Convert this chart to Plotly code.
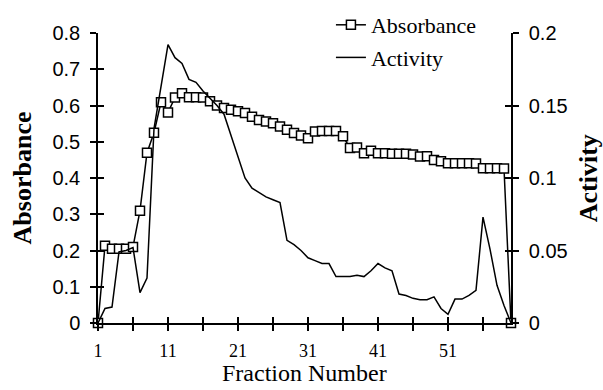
import plotly.graph_objects as go

# ---- data ----
fraction = list(range(1, 61))
absorbance = [
    0.0, 0.213, 0.205, 0.205, 0.205, 0.210, 0.310, 0.470, 0.525, 0.609,
    0.581, 0.622, 0.634, 0.623, 0.623, 0.622, 0.612, 0.600, 0.593, 0.588,
    0.584, 0.579, 0.569, 0.560, 0.556, 0.551, 0.542, 0.533, 0.524, 0.517,
    0.510, 0.528, 0.530, 0.530, 0.530, 0.515, 0.483, 0.484, 0.468, 0.475,
    0.468, 0.468, 0.467, 0.467, 0.467, 0.465, 0.459, 0.460, 0.450, 0.446,
    0.441, 0.441, 0.441, 0.441, 0.440, 0.427, 0.427, 0.427, 0.426, 0.0,
]
activity = [
    0.0, 0.010, 0.011, 0.049, 0.050, 0.052, 0.021, 0.031, 0.134, 0.163,
    0.192, 0.183, 0.179, 0.168, 0.166, 0.160, 0.155, 0.150, 0.144, 0.129,
    0.115, 0.100, 0.093, 0.090, 0.087, 0.085, 0.083, 0.057, 0.054, 0.050,
    0.045, 0.043, 0.041, 0.041, 0.032, 0.032, 0.032, 0.033, 0.032, 0.036,
    0.041, 0.038, 0.036, 0.020, 0.019, 0.017, 0.016, 0.016, 0.018, 0.010,
    0.006, 0.0165, 0.0165, 0.019, 0.0225, 0.073, 0.051, 0.026, 0.012, 0.0,
]
x_tickvals = list(range(1, 60, 5))
x_ticklabels = ["1", "", "11", "", "21", "", "31", "", "41", "", "51", ""]
abs_ticks = [0, 0.1, 0.2, 0.3, 0.4, 0.5, 0.6, 0.7, 0.8]
act_ticks = [0, 0.05, 0.1, 0.15, 0.2]

SANS = "Liberation Sans, Arial, sans-serif"
SERIF = "Liberation Serif, Times New Roman, serif"

fig = go.Figure()
fig.add_trace(go.Scatter(
    x=fraction, y=absorbance, name="Absorbance", mode="lines+markers",
    line=dict(color="black", width=1.5),
    marker=dict(symbol="square", size=9, color="white",
                line=dict(color="black", width=1.5)),
    cliponaxis=False, legendgroup="a", xaxis="x", yaxis="y",
))
fig.add_trace(go.Scatter(
    x=fraction, y=activity, name="Activity", mode="lines",
    line=dict(color="black", width=1.5),
    cliponaxis=False, legendgroup="b", xaxis="x", yaxis="y2",
))
# empty traces to host the overlay axes that draw the inner half of crossing ticks
fig.add_trace(go.Scatter(x=[], y=[], xaxis="x2", yaxis="y", showlegend=False, hoverinfo="skip"))
fig.add_trace(go.Scatter(x=[], y=[], xaxis="x", yaxis="y3", showlegend=False, hoverinfo="skip"))
fig.add_trace(go.Scatter(x=[], y=[], xaxis="x", yaxis="y4", showlegend=False, hoverinfo="skip"))

common = dict(showgrid=False, zeroline=False, ticklen=6, tickwidth=1.5, tickcolor="black",
              automargin=False)

fig.update_layout(
    width=603, height=390,
    margin=dict(l=98, r=92, t=33, b=67, autoexpand=False),
    paper_bgcolor="white", plot_bgcolor="white",
    xaxis=dict(range=[1, 60], tickmode="array", tickvals=x_tickvals, ticktext=x_ticklabels,
               ticks="outside", showline=True, linecolor="black", linewidth=1.5,
               tickfont=dict(family=SERIF, size=18, color="black"), ticklabelstandoff=5,
               **common),
    xaxis2=dict(range=[1, 60], overlaying="x", side="bottom", tickmode="array",
                tickvals=x_tickvals, ticks="inside", showticklabels=False, showline=False,
                **common),
    yaxis=dict(range=[0, 0.8], tickmode="array", tickvals=abs_ticks, ticks="outside",
               showline=True, linecolor="black", linewidth=1.5,
               tickfont=dict(family=SANS, size=20, color="black"), ticklabelstandoff=6,
               **common),
    yaxis2=dict(range=[0, 0.2], overlaying="y", side="right", tickmode="array",
                tickvals=act_ticks, ticks="outside", showline=True, linecolor="black",
                linewidth=1.5, tickfont=dict(family=SANS, size=20, color="black"),
                ticklabelstandoff=6, **common),
    yaxis3=dict(range=[0, 0.8], overlaying="y", side="left", tickmode="array",
                tickvals=abs_ticks, ticks="inside", showticklabels=False, showline=False,
                **common),
    yaxis4=dict(range=[0, 0.2], overlaying="y", side="right", tickmode="array",
                tickvals=act_ticks, ticks="inside", showticklabels=False, showline=False,
                **common),
    legend=dict(x=0.564, xanchor="left", y=1.10, yanchor="top", bgcolor="rgba(0,0,0,0)",
                font=dict(family=SERIF, size=22, color="black"), traceorder="grouped",
                tracegroupgap=1),
    showlegend=True,
    annotations=[
        dict(text="<b>Absorbance</b>", xref="paper", yref="paper", x=-0.183, y=0.5,
             xanchor="center", yanchor="middle", textangle=-90, showarrow=False,
             font=dict(family=SERIF, size=26, color="black")),
        dict(text="<b>Activity</b>", xref="paper", yref="paper", x=1.187, y=0.5,
             xanchor="center", yanchor="middle", textangle=-90, showarrow=False,
             font=dict(family=SERIF, size=26, color="black")),
        dict(text="Fraction Number", xref="paper", yref="paper", x=0.5, y=-0.2255,
             xanchor="center", yanchor="bottom", showarrow=False,
             font=dict(family=SERIF, size=24, color="black")),
    ],
)

fig.write_html("out.html")
